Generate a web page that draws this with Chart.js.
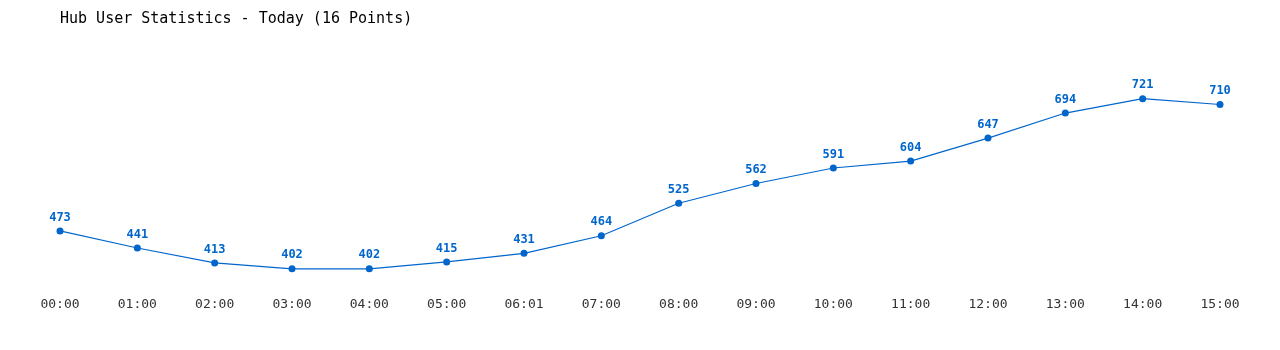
<!DOCTYPE html>
<html><head><meta charset="utf-8">
<script src="https://cdn.jsdelivr.net/npm/chart.js@4/dist/chart.umd.min.js"></script>
<style>html,body{margin:0;padding:0;background:#fff}#wrap{width:1280px;height:350px}</style>
</head><body><div id="wrap"><canvas id="c" width="1280" height="350"></canvas></div>
<script>
const categories = ["00:00","01:00","02:00","03:00","04:00","05:00","06:01","07:00","08:00","09:00","10:00","11:00","12:00","13:00","14:00","15:00"];
const users = [473,441,413,402,402,415,431,464,525,562,591,604,647,694,721,710];
const titleText = "Hub User Statistics - Today (16 Points)";
const FONT = "'DejaVu Sans Mono', monospace";
const BLUE = "#0066cc";

const labelPlugin = {
  id: 'pointLabels',
  afterDatasetsDraw(chart) {
    const ctx = chart.ctx;
    const meta = chart.getDatasetMeta(0);
    ctx.save();
    ctx.font = "bold 12px " + FONT;
    ctx.fillStyle = BLUE;
    ctx.textAlign = 'center';
    ctx.textBaseline = 'middle';
    meta.data.forEach((pt, i) => {
      ctx.fillText(String(users[i]), pt.x, pt.y - 13.5);
    });
    ctx.restore();
  }
};

new Chart(document.getElementById('c'), {
  type: 'line',
  data: { labels: categories, datasets: [{
    data: users, borderColor: BLUE, backgroundColor: BLUE, borderWidth: 1.2,
    pointRadius: 3.5, pointBackgroundColor: BLUE, pointBorderWidth: 0, tension: 0, fill: false
  }]},
  options: {
    responsive: false, animation: false,
    layout: { padding: { left: 60, right: 60, top: 0, bottom: 34.5 } },
    plugins: {
      legend: { display: false }, tooltip: { enabled: false },
      title: { display: true, text: titleText, align: 'start', color: '#000',
        font: { family: FONT, size: 15, weight: 'normal' }, padding: { top: 10, bottom: 28.5 } }
    },
    scales: {
      x: { offset: false, grid: { display: false }, border: { display: false },
        ticks: { color: '#333', font: { family: FONT, size: 13 }, padding: 3, maxRotation: 0, autoSkip: false } },
      y: { display: false, min: 370, max: 800 }
    }
  },
  plugins: [labelPlugin]
});
</script></body></html>
